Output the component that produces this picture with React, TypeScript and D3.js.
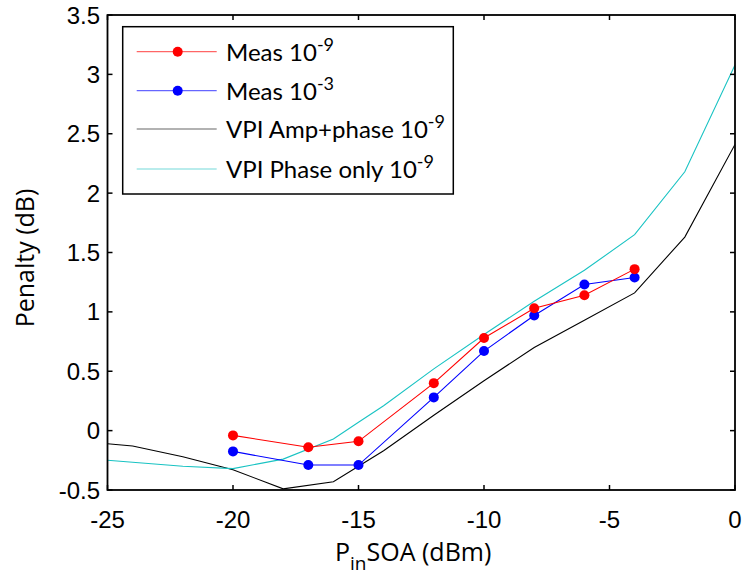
import React from "react";
import * as d3 from "d3";

const W = 743;
const H = 574;

const measX = [-20, -17, -15, -12, -10, -8, -6, -4];
const meas9 = [-0.04, -0.14, -0.09, 0.4, 0.78, 1.03, 1.14, 1.36];
const meas3 = [-0.175, -0.29, -0.29, 0.28, 0.67, 0.97, 1.23, 1.29];

const vpiAmpX = [-25, -24, -22, -20, -18, -16, -15, -14, -12, -10, -8, -6, -4, -2, 0];
const vpiAmp = [-0.11, -0.13, -0.22, -0.33, -0.49, -0.43, -0.3, -0.17, 0.13, 0.42, 0.7, 0.93, 1.16, 1.63, 2.41];

const vpiPhX = [-25, -22, -20, -18, -16, -15, -14, -12, -10, -8, -6, -4, -2, 0];
const vpiPh = [-0.25, -0.3, -0.32, -0.24, -0.07, 0.07, 0.21, 0.52, 0.81, 1.09, 1.35, 1.65, 2.18, 3.08];

const xTicks = [-25, -20, -15, -10, -5, 0];
const yTicks = [-0.5, 0, 0.5, 1, 1.5, 2, 2.5, 3, 3.5];

const legendItems = [
  { label: "Meas 10", sup: "-9", color: "#ff0000", marker: true },
  { label: "Meas 10", sup: "-3", color: "#0000ff", marker: true },
  { label: "VPI Amp+phase 10", sup: "-9", color: "#000000", marker: false },
  { label: "VPI Phase only 10", sup: "-9", color: "#19c3c3", marker: false },
];

const M = { left: 107.5, right: 735, top: 15, bottom: 490 };

export default function App() {
  const x = d3.scaleLinear().domain([-25, 0]).range([M.left, M.right]);
  const y = d3.scaleLinear().domain([-0.5, 3.5]).range([M.bottom, M.top]);
  const line = d3
    .line<[number, number]>()
    .x((d) => x(d[0]))
    .y((d) => y(d[1]));
  const zip = (a: number[], b: number[]) => a.map((v, i) => [v, b[i]] as [number, number]);

  const tickFont = "Liberation Sans, Arial, sans-serif";
  const labelFont = "Open Sans, sans-serif";
  const legFont = "Lato, sans-serif";
  const tl = 5;

  const leg = { x: 122.7, y: 26.7, w: 330.6, h: 167.3 };
  const rows = [51.7, 90.7, 129, 169];

  return (
    <svg width={W} height={H} style={{ position: "absolute", left: 0, top: 0, background: "#fff" }}>
      <rect x={0} y={0} width={W} height={H} fill="#fff" />
      <defs>
        <clipPath id="clip">
          <rect x={M.left} y={M.top} width={M.right - M.left} height={M.bottom - M.top} />
        </clipPath>
      </defs>
      <g clipPath="url(#clip)">
        <path d={line(zip(vpiAmpX, vpiAmp)) || ""} fill="none" stroke="#000" strokeWidth={1.1} />
        <path d={line(zip(vpiPhX, vpiPh)) || ""} fill="none" stroke="#19c3c3" strokeWidth={1.1} />
        <path d={line(zip(measX, meas3)) || ""} fill="none" stroke="#0000ff" strokeWidth={1.1} />
        {measX.map((v, i) => (
          <circle key={"b" + i} cx={x(v)} cy={y(meas3[i])} r={5} fill="#0000ff" />
        ))}
        <path d={line(zip(measX, meas9)) || ""} fill="none" stroke="#ff0000" strokeWidth={1.1} />
        {measX.map((v, i) => (
          <circle key={"r" + i} cx={x(v)} cy={y(meas9[i])} r={5} fill="#ff0000" />
        ))}
      </g>
      {/* axes box */}
      <rect x={M.left} y={M.top} width={M.right - M.left} height={M.bottom - M.top} fill="none" stroke="#000" strokeWidth={1.8} />
      {xTicks.map((t) => (
        <g key={"xt" + t}>
          <line x1={x(t)} x2={x(t)} y1={M.bottom} y2={M.bottom - tl} stroke="#000" strokeWidth={1.5} />
          <line x1={x(t)} x2={x(t)} y1={M.top} y2={M.top + tl} stroke="#000" strokeWidth={1.5} />
          <text x={x(t)} y={528} textAnchor="middle" fontFamily={tickFont} fontSize={24} fill="#000">
            {t}
          </text>
        </g>
      ))}
      {yTicks.map((t) => (
        <g key={"yt" + t}>
          <line x1={M.left} x2={M.left + tl} y1={y(t)} y2={y(t)} stroke="#000" strokeWidth={1.5} />
          <line x1={M.right} x2={M.right - tl} y1={y(t)} y2={y(t)} stroke="#000" strokeWidth={1.5} />
          <text x={100} y={y(t) + 8.5} textAnchor="end" fontFamily={tickFont} fontSize={24} fill="#000">
            {t}
          </text>
        </g>
      ))}
      {/* legend */}
      <rect x={leg.x} y={leg.y} width={leg.w} height={leg.h} fill="#fff" stroke="#000" strokeWidth={1.5} />
      {legendItems.map((it, i) => (
        <g key={"lg" + i}>
          <line x1={136.7} x2={216.7} y1={rows[i]} y2={rows[i]} stroke={it.color} strokeOpacity={0.6} strokeWidth={1.2} />
          {it.marker && <circle cx={177.7} cy={rows[i]} r={5} fill={it.color} />}
          <text x={226} y={rows[i] + 9} fontFamily={legFont} fontSize={24} fill="#000">
            {it.label}
            <tspan dy={-10} fontSize={18}>
              {it.sup}
            </tspan>
          </text>
        </g>
      ))}
      {/* axis labels */}
      <text
        transform={`translate(34, 258) rotate(-90)`}
        textAnchor="middle"
        fontFamily={labelFont}
        fontSize={25}
        fill="#000"
      >
        Penalty (dB)
      </text>
      <text x={335} y={561} fontFamily={labelFont} fontSize={25} fill="#000">
        P
        <tspan dy={9} fontSize={19}>
          in
        </tspan>
        <tspan dy={-9}>SOA (dBm)</tspan>
      </text>
    </svg>
  );
}
